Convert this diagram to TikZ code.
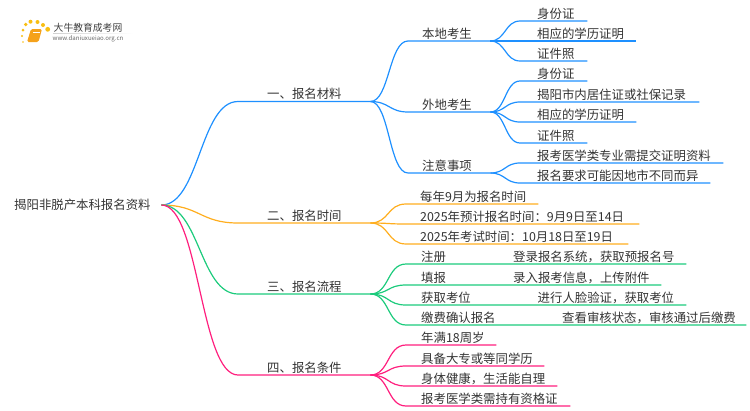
\documentclass[tikz,border=0pt]{standalone}
\usepackage{fontspec}
\setmainfont{Noto Sans CJK SC}
\definecolor{inkgray}{HTML}{333333}
\definecolor{linkblue}{HTML}{1E90FF}
\definecolor{linkorange}{HTML}{FFAE1F}
\definecolor{linkgreen}{HTML}{1CCB7C}
\definecolor{linkpink}{HTML}{FF1F7E}
\definecolor{bookorange}{HTML}{F5A21B}
\tikzset{
    item/.style={anchor=south west, inner xsep=0pt, inner ysep=2pt, text height=9pt, text depth=0.5pt,
        align=left, text=inkgray, font=\fontsize{12.4}{14}\selectfont},
    swoop/.style={out=0, in=180, distance=#1},
    bluelink/.style={draw=linkblue, line width=1.2pt},
    orangelink/.style={draw=linkorange, line width=1.2pt},
    greenlink/.style={draw=linkgreen, line width=1.2pt},
    pinklink/.style={draw=linkpink, line width=1.2pt},
    sundot/.style={fill=bookorange!70!yellow}
}
\begin{document}
\begin{tikzpicture}[x=1pt, y=-1pt]
    \useasboundingbox (0,0) rectangle (750,410);
    % Logo
    \foreach \px/\py/\pr in {22/36/1.1, 23/30/1.5, 25.7/24.5/1.9, 30.5/21.7/2, 37.5/22/2, 43/25/2, 47.7/29.3/2.4, 23/42/0.8}
        \fill[sundot] (\px,\py) circle (\pr);
    \fill[bookorange, rounded corners=1.5pt] (31,29) -- (42,29) -- (38.5,42) -- (27,42) -- cycle;
    \draw[white, line width=0.5pt] (33,32) -- (39.5,32);
    \shade[left color=black!18, right color=white] (53,33) rectangle (133,33.6);
    \node[font=\fontsize{9.8}{11}\selectfont, text=black!75, inner sep=0pt] (logoname) at (88,27.5) {大牛教育成考网};
    \node[font=\fontsize{6.1}{7}\selectfont, text=black!60, inner sep=0pt] (logourl) at (88,39) {www.daniuxueiao.org.cn};
    % Root
    \node[item, anchor=west, inner xsep=11pt, inner ysep=0pt, text width=136pt] (root) at (3,205) {揭阳非脱产本科报名资料};
    % First branch
    \node[item, text width=103pt] (cailiao) at (267,101.5) {一、报名材料};
    \node[item, text width=68pt] (bendi) at (422,41) {本地考生};
    \node[item, text width=68pt] (waidi) at (422,112) {外地考生};
    \node[item, text width=68pt] (zhuyi) at (422,173) {注意事项};
    \node[item, text width=50pt] (benA) at (537,21) {身份证};
    \node[item, text width=99pt] (benB) at (537,41) {相应的学历证明};
    \node[item, text width=50pt] (benC) at (537,61) {证件照};
    \node[item, text width=50pt] (waiA) at (537,81) {身份证};
    \node[item, text width=162pt] (waiB) at (537,102) {揭阳市内居住证或社保记录};
    \node[item, text width=99pt] (waiC) at (537,122) {相应的学历证明};
    \node[item, text width=50pt] (waiD) at (537,143) {证件照};
    \node[item, text width=186pt] (zhuA) at (537,163) {报考医学类专业需提交证明资料};
    \node[item, text width=173pt] (zhuB) at (537,183) {报名要求可能因地市不同而异};
    \draw[bluelink] (root.east) to[swoop=38pt] ([xshift=-29pt]cailiao.south west) -- (cailiao.south east);
    \draw[bluelink] (cailiao.south east) to[swoop=19pt] ([xshift=-14pt]bendi.south west) -- (bendi.south east);
    \draw[bluelink] (cailiao.south east) to[swoop=19pt] ([xshift=-14pt]waidi.south west) -- (waidi.south east);
    \draw[bluelink] (cailiao.south east) to[swoop=19pt] ([xshift=-14pt]zhuyi.south west) -- (zhuyi.south east);
    \foreach \leaf in {benA, benB, benC}
        \draw[bluelink] (bendi.south east) to[swoop=15pt] ([xshift=-17pt]\leaf.south west) -- (\leaf.south east);
    \foreach \leaf in {waiA, waiB, waiC, waiD}
        \draw[bluelink] (waidi.south east) to[swoop=15pt] ([xshift=-17pt]\leaf.south west) -- (\leaf.south east);
    \foreach \leaf in {zhuA, zhuB}
        \draw[bluelink] (zhuyi.south east) to[swoop=15pt] ([xshift=-17pt]\leaf.south west) -- (\leaf.south east);
    % Second branch
    \node[item, text width=103pt] (shijian) at (267,223) {二、报名时间};
    \node[item, text width=118pt] (shiA) at (420,204) {每年9月为报名时间};
    \node[item, text width=219pt] (shiB) at (420,224) {2025年预计报名时间：9月9日至14日};
    \node[item, text width=208pt] (shiC) at (420,244) {2025年考试时间：10月18日至19日};
    \draw[orangelink] (root.east) to[swoop=38pt] ([xshift=-29pt]shijian.south west) -- (shijian.south east);
    \foreach \leaf in {shiA, shiB, shiC}
        \draw[orangelink] (shijian.south east) to[swoop=19pt] ([xshift=-14pt]\leaf.south west) -- (\leaf.south east);
    % Third branch
    \node[item, text width=103pt] (liucheng) at (267,294) {三、报名流程};
    \node[item, text width=265pt] (liuA) at (421,264) {注册};
    \node[item, text width=240pt] (liuB) at (421,285) {填报};
    \node[item, text width=265pt] (liuC) at (421,305) {获取考位};
    \node[item, text width=325pt] (liuD) at (421,325) {缴费确认报名};
    \node[item, anchor=base west] (liuAt) at ([xshift=92pt]liuA.base west) {登录报名系统，获取预报名号};
    \node[item, anchor=base west] (liuBt) at ([xshift=92pt]liuB.base west) {录入报考信息，上传附件};
    \node[item, anchor=base west] (liuCt) at ([xshift=116.5pt]liuC.base west) {进行人脸验证，获取考位};
    \node[item, anchor=base west] (liuDt) at ([xshift=141pt]liuD.base west) {查看审核状态，审核通过后缴费};
    \draw[greenlink] (root.east) to[swoop=38pt] ([xshift=-29pt]liucheng.south west) -- (liucheng.south east);
    \foreach \leaf in {liuA, liuB, liuC, liuD}
        \draw[greenlink] (liucheng.south east) to[swoop=19pt] ([xshift=-15pt]\leaf.south west) -- (\leaf.south east);
    % Fourth branch
    \node[item, text width=103pt] (tiaojian) at (267,375) {四、报名条件};
    \node[item, text width=75pt] (tiaoA) at (421,345) {年满18周岁};
    \node[item, text width=123pt] (tiaoB) at (421,366) {具备大专或等同学历};
    \node[item, text width=136pt] (tiaoC) at (421,386) {身体健康，生活能自理};
    \node[item, text width=149pt] (tiaoD) at (421,406) {报考医学类需持有资格证};
    \draw[pinklink] (root.east) to[swoop=38pt] ([xshift=-29pt]tiaojian.south west) -- (tiaojian.south east);
    \foreach \leaf in {tiaoA, tiaoB, tiaoC, tiaoD}
        \draw[pinklink] (tiaojian.south east) to[swoop=19pt] ([xshift=-15pt]\leaf.south west) -- (\leaf.south east);
\end{tikzpicture}
\end{document}
